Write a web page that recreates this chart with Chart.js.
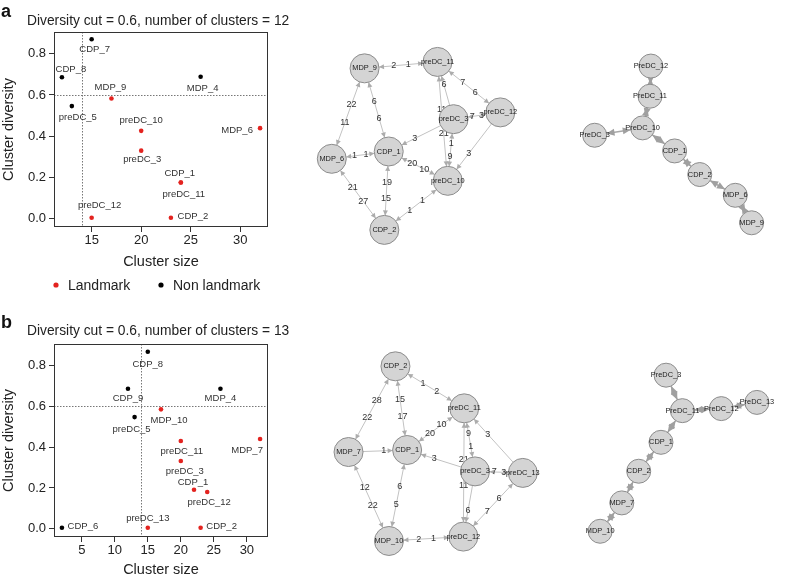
<!DOCTYPE html>
<html>
<head>
<meta charset="utf-8">
<script src="https://cdn.jsdelivr.net/npm/chart.js@4.4.0/dist/chart.umd.min.js"></script>
<style>
html, body { margin: 0; padding: 0; background: #fff; }
body { width: 788px; height: 580px; position: relative; overflow: hidden; }
canvas { position: absolute; }
</style>
</head>
<body>
<canvas id="scatterA" style="left:0;top:0" width="290" height="300"></canvas>
<canvas id="netA1" style="left:295px;top:20px" width="250" height="260"></canvas>
<canvas id="netA2" style="left:555px;top:30px" width="233" height="230"></canvas>
<canvas id="scatterB" style="left:0;top:290px" width="290" height="290"></canvas>
<canvas id="netB1" style="left:295px;top:320px" width="255" height="260"></canvas>
<canvas id="netB2" style="left:550px;top:340px" width="238" height="230"></canvas>
<script>
// ---- data: panel a scatter
const namesA = ['CDP_7', 'CDP_8', 'MDP_4', 'preDC_5', 'MDP_9', 'preDC_10', 'preDC_3', 'MDP_6', 'CDP_1', 'preDC_11', 'preDC_12', 'CDP_2']
const sizeA = [15, 12, 26, 13, 17, 20, 20, 32, 24, 24, 15, 23]
const diversityA = [0.87, 0.686, 0.688, 0.546, 0.583, 0.426, 0.33, 0.439, 0.176, 0.176, 0.005, 0.005]
const landmarkA = [0, 0, 0, 0, 1, 1, 1, 1, 1, 1, 1, 1]

// ---- data: panel b scatter
const namesB = ['CDP_8', 'CDP_9', 'MDP_4', 'preDC_5', 'MDP_10', 'preDC_11', 'MDP_7', 'preDC_3', 'CDP_1', 'preDC_12', 'preDC_13', 'CDP_2', 'CDP_6']
const sizeB = [15, 12, 26, 13, 17, 20, 32, 20, 22, 24, 15, 23, 2]
const diversityB = [0.867, 0.686, 0.686, 0.547, 0.585, 0.43, 0.44, 0.332, 0.191, 0.18, 0.005, 0.005, 0.005]
const landmarkB = [0, 0, 0, 0, 1, 1, 1, 1, 1, 1, 1, 1, 0]

const diversityCut = 0.6
const sizeCut = 14
const yTicks = [0, 0.2, 0.4, 0.6, 0.8]
const xTicksA = [15, 20, 25, 30]
const xTicksB = [5, 10, 15, 20, 25, 30]

// label placement next to points (px)
const labelOffA = [[3, 10], [9, -8], [2, 12], [6, 11], [-1, -11], [0, -10], [1, 9], [-23, 2], [-1, -9], [3, 12], [8, -12], [22, -1]]
const labelOffB = [[0, 13], [0, 10], [0, 10], [-3, 12], [8, 11], [1, 10], [-13, 11], [4, 10], [-1, -7], [2, 10], [0, -9], [21, -1], [21, -1]]

// ---- network layouts (layout units) and edges [from, to, weight near from, weight near to]
const netA1Nodes = ['MDP_9', 'preDC_11', 'preDC_3', 'preDC_12', 'MDP_6', 'CDP_1', 'preDC_10', 'CDP_2']
const netA1X = [61.7, 145, 163.3, 216.7, 24.3, 89.3, 156.7, 84.3]
const netA1Y = [37.3, 30, 95, 87.3, 140, 131.7, 165, 220.7]
const netA1Edges = [
  ['MDP_9', 'preDC_11', 2, 1], ['MDP_9', 'MDP_6', 22, 11], ['MDP_9', 'CDP_1', 6, 6],
  ['preDC_11', 'preDC_3', 6, null], ['preDC_11', 'preDC_10', 11, 21], ['preDC_11', 'preDC_12', 7, 6],
  ['preDC_3', 'preDC_12', 7, 3], ['preDC_3', 'CDP_1', null, 3], ['preDC_3', 'preDC_10', 1, 9],
  ['preDC_12', 'preDC_10', null, 3], ['MDP_6', 'CDP_1', 1, 1], ['CDP_1', 'preDC_10', 20, 10],
  ['CDP_1', 'CDP_2', 19, 15], ['MDP_6', 'CDP_2', 21, 27], ['CDP_2', 'preDC_10', 1, 1]
]

const netA2Nodes = ['PreDC_12', 'PreDC_11', 'PreDC_10', 'PreDC_3', 'CDP_1', 'CDP_2', 'MDP_6', 'MDP_9']
const netA2X = [93.3, 92.3, 84, 30, 120, 148.3, 188.3, 206.7]
const netA2Y = [26, 60, 95.7, 104, 121.7, 148.3, 171.7, 202.7]
const netA2Edges = [
  ['PreDC_12', 'PreDC_11'], ['PreDC_11', 'PreDC_10'], ['PreDC_10', 'PreDC_3'], ['PreDC_10', 'CDP_1'],
  ['CDP_1', 'CDP_2'], ['CDP_2', 'MDP_6'], ['MDP_6', 'MDP_9']
]

const netB1Nodes = ['CDP_2', 'preDC_11', 'MDP_7', 'CDP_1', 'preDC_3', 'preDC_13', 'MDP_10', 'preDC_12']
const netB1X = [96.7, 175, 43.3, 110, 187.3, 241.7, 89.3, 174]
const netB1Y = [35, 82.7, 132.3, 130, 154.3, 156, 233.3, 228.3]
const netB1Edges = [
  ['CDP_2', 'preDC_11', 1, 2], ['CDP_2', 'MDP_7', 28, 22], ['CDP_2', 'CDP_1', 15, 17],
  ['preDC_11', 'CDP_1', 10, 20], ['MDP_7', 'CDP_1', null, 1], ['preDC_11', 'preDC_3', 9, 1],
  ['preDC_13', 'preDC_11', null, 3], ['preDC_3', 'CDP_1', null, 3], ['preDC_11', 'preDC_12', 21, 11],
  ['preDC_3', 'preDC_13', 7, 3], ['preDC_3', 'preDC_12', null, 6], ['preDC_13', 'preDC_12', 6, 7],
  ['MDP_7', 'MDP_10', 12, 22], ['CDP_1', 'MDP_10', 6, 5], ['MDP_10', 'preDC_12', 2, 1]
]

const netB2Nodes = ['PreDC_3', 'PreDC_11', 'PreDC_12', 'PreDC_13', 'CDP_1', 'CDP_2', 'MDP_7', 'MDP_10']
const netB2X = [115.7, 134, 177.7, 217.7, 110, 85, 66, 41.7]
const netB2Y = [25, 65, 62.7, 55.7, 100.7, 133.3, 169, 201]
const netB2Edges = [
  ['PreDC_3', 'PreDC_11'], ['PreDC_11', 'PreDC_12'], ['PreDC_12', 'PreDC_13'], ['PreDC_11', 'CDP_1'],
  ['CDP_1', 'CDP_2'], ['CDP_2', 'MDP_7'], ['MDP_7', 'MDP_10']
]

const FONT = '"Liberation Sans", Arial, Helvetica, sans-serif'
const RED = '#e3231f'
Chart.defaults.font.family = FONT
Chart.defaults.color = '#222'

// draws frame, cut lines, point labels, title, panel letter and legend
const scatterDeco = {
  id: 'scatterDeco',
  beforeDatasetsDraw(chart, args, o) {
    const {ctx, chartArea: a, scales: {x, y}} = chart
    ctx.save()
    ctx.strokeStyle = '#777'
    ctx.lineWidth = 1
    ctx.setLineDash([1.5, 1.5])
    const cx = Math.round(x.getPixelForValue(sizeCut)) + 0.5
    const cy = Math.round(y.getPixelForValue(diversityCut)) + 0.5
    ctx.beginPath()
    ctx.moveTo(cx, a.top); ctx.lineTo(cx, a.bottom)
    ctx.moveTo(a.left, cy); ctx.lineTo(a.right, cy)
    ctx.stroke()
    ctx.setLineDash([])
    ctx.strokeStyle = '#333'
    ctx.strokeRect(Math.round(a.left) + 0.5, Math.round(a.top) + 0.5,
      Math.round(a.right - a.left) - 1, Math.round(a.bottom - a.top) - 1)
    ctx.restore()
  },
  afterDatasetsDraw(chart, args, o) {
    const {ctx, scales: {x, y}} = chart
    ctx.save()
    ctx.font = '9.5px ' + FONT
    ctx.fillStyle = '#333'
    ctx.textAlign = 'center'
    ctx.textBaseline = 'middle'
    o.names.forEach((n, i) => {
      const px = x.getPixelForValue(o.sizes[i]) + o.offsets[i][0]
      const py = y.getPixelForValue(o.divs[i]) + o.offsets[i][1]
      ctx.fillText(n, px, py)
    })
    ctx.textAlign = 'left'
    ctx.textBaseline = 'alphabetic'
    ctx.fillStyle = '#111'
    ctx.font = 'bold 18px ' + FONT
    ctx.fillText(o.letter, 1, o.letterY)
    ctx.fillStyle = '#222'
    ctx.font = '13.8px ' + FONT
    ctx.fillText(o.title, 27, o.titleY)
    if (o.legend) {
      ctx.font = '14px ' + FONT
      const items = [['Landmark', RED, 56], ['Non landmark', '#000', 161]]
      items.forEach(([t, c, lx]) => {
        ctx.fillStyle = c
        ctx.beginPath()
        ctx.arc(lx, 285, 2.6, 0, Math.PI * 2)
        ctx.fill()
        ctx.fillStyle = '#222'
        ctx.fillText(t, lx + 12, 290)
      })
    }
    ctx.restore()
  }
}

function makeScatter(id, names, sizes, divs, landmark, xTicks, xMin, xMax, offsets, deco, pad, xAxisH) {
  const pts = (flag) => sizes.map((s, i) => ({x: s, y: divs[i], f: landmark[i]}))
    .filter(p => p.f === flag).map(p => ({x: p.x, y: p.y}))
  new Chart(document.getElementById(id), {
    type: 'scatter',
    data: {
      datasets: [
        {label: 'Non landmark', data: pts(0), backgroundColor: '#000', pointRadius: 2.3, borderWidth: 0},
        {label: 'Landmark', data: pts(1), backgroundColor: RED, pointRadius: 2.3, borderWidth: 0}
      ]
    },
    options: {
      responsive: false,
      animation: false,
      events: [],
      layout: {padding: pad},
      plugins: {
        legend: {display: false},
        tooltip: {enabled: false},
        scatterDeco: Object.assign({names, sizes, divs, offsets}, deco)
      },
      scales: {
        x: {
          type: 'linear', min: xMin, max: xMax,
          afterBuildTicks: s => { s.ticks = xTicks.map(v => ({value: v})) },
          afterFit: s => { s.height = xAxisH },
          ticks: {font: {size: 13}, color: '#222', padding: 1, maxRotation: 0, callback: v => String(v)},
          grid: {drawOnChartArea: false, drawTicks: true, tickLength: 5, color: '#333'},
          border: {display: false},
          title: {display: true, text: 'Cluster size', font: {size: 14.5}, color: '#222', padding: 0}
        },
        y: {
          type: 'linear', min: -0.04, max: 0.905,
          afterBuildTicks: s => { s.ticks = yTicks.map(v => ({value: v})) },
          afterFit: s => { s.width = 54 },
          ticks: {font: {size: 13}, color: '#222', padding: 3, callback: v => v.toFixed(1)},
          grid: {drawOnChartArea: false, drawTicks: true, tickLength: 5, color: '#333'},
          border: {display: false},
          title: {display: true, text: 'Cluster diversity', font: {size: 14.5}, color: '#222', padding: 0}
        }
      }
    },
    plugins: [scatterDeco]
  })
}

makeScatter('scatterA', namesA, sizeA, diversityA, landmarkA, xTicksA, 11.2, 32.8, labelOffA,
  {letter: 'a', letterY: 17, title: 'Diversity cut = 0.6, number of clusters = 12', titleY: 24.5, legend: true},
  {top: 32, right: 22, bottom: 29, left: 0}, 44)
makeScatter('scatterB', namesB, sizeB, diversityB, landmarkB, xTicksB, 0.8, 33.2, labelOffB,
  {letter: 'b', letterY: 38, title: 'Diversity cut = 0.6, number of clusters = 13', titleY: 44.5, legend: false},
  {top: 54, right: 22, bottom: 1, left: 0}, 42)

// ---- networks
const netDeco = {
  id: 'netDeco',
  beforeDatasetsDraw(chart, args, o) {
    const {ctx, scales: {x, y}} = chart
    const P = (n) => {
      const i = o.nodes.indexOf(n)
      return [x.getPixelForValue(o.xs[i]), y.getPixelForValue(o.ys[i])]
    }
    const arrow = (tx, ty, ux, uy) => {
      ctx.beginPath()
      ctx.moveTo(tx, ty)
      ctx.lineTo(tx - ux * o.aLen - uy * o.aW, ty - uy * o.aLen + ux * o.aW)
      ctx.lineTo(tx - ux * o.aLen + uy * o.aW, ty - uy * o.aLen - ux * o.aW)
      ctx.closePath()
      ctx.fill()
    }
    ctx.save()
    o.edges.forEach(([a, b, la, lb]) => {
      const [x1, y1] = P(a), [x2, y2] = P(b)
      const len = Math.hypot(x2 - x1, y2 - y1)
      const ux = (x2 - x1) / len, uy = (y2 - y1) / len
      const sx = x1 + ux * o.r, sy = y1 + uy * o.r
      const ex = x2 - ux * o.r, ey = y2 - uy * o.r
      ctx.strokeStyle = o.edgeColor
      ctx.lineWidth = o.edgeW
      ctx.beginPath()
      ctx.moveTo(sx, sy); ctx.lineTo(ex, ey)
      ctx.stroke()
      ctx.fillStyle = o.arrowColor
      if (o.both || la != null) arrow(sx, sy, -ux, -uy)
      if (o.both || lb != null) arrow(ex, ey, ux, uy)
      ctx.font = '9px ' + FONT
      ctx.fillStyle = '#333'
      ctx.textAlign = 'center'
      ctx.textBaseline = 'middle'
      if (la != null) ctx.fillText(String(la), x1 + (x2 - x1) * 0.4, y1 + (y2 - y1) * 0.4)
      if (lb != null) ctx.fillText(String(lb), x1 + (x2 - x1) * 0.6, y1 + (y2 - y1) * 0.6)
    })
    ctx.restore()
  },
  afterDatasetsDraw(chart, args, o) {
    const {ctx, scales: {x, y}} = chart
    ctx.save()
    ctx.font = o.nodeFont + 'px ' + FONT
    ctx.fillStyle = o.nodeText
    ctx.textAlign = 'center'
    ctx.textBaseline = 'middle'
    o.nodes.forEach((n, i) => {
      ctx.fillText(n, x.getPixelForValue(o.xs[i]), y.getPixelForValue(o.ys[i]))
    })
    ctx.restore()
  }
}

function makeNet(id, nodes, xs, ys, edges, st) {
  const cv = document.getElementById(id)
  new Chart(cv, {
    type: 'scatter',
    data: {
      datasets: [{
        data: xs.map((v, i) => ({x: v, y: ys[i]})),
        pointRadius: st.r, backgroundColor: '#d4d4d4', borderColor: '#8c8c8c', borderWidth: 1, clip: false
      }]
    },
    options: {
      responsive: false,
      animation: false,
      events: [],
      layout: {padding: 0},
      plugins: {
        legend: {display: false},
        tooltip: {enabled: false},
        netDeco: Object.assign({nodes, xs, ys, edges}, st)
      },
      scales: {
        x: {type: 'linear', display: false, min: 0, max: cv.width},
        y: {type: 'linear', display: false, min: 0, max: cv.height, reverse: true}
      }
    },
    plugins: [netDeco]
  })
}

const bigNet = {r: 14.5, edgeColor: '#c2c2c2', edgeW: 1, arrowColor: '#acacac', aLen: 5, aW: 2.5, both: false, nodeFont: 7.4, nodeText: '#1a1a1a'}
const smallNet = {r: 12, edgeColor: '#a8a8a8', edgeW: 1.5, arrowColor: '#a0a0a0', aLen: 8, aW: 3.5, both: true, nodeFont: 7.4, nodeText: '#1a1a1a'}

makeNet('netA1', netA1Nodes, netA1X, netA1Y, netA1Edges, bigNet)
makeNet('netA2', netA2Nodes, netA2X, netA2Y, netA2Edges, smallNet)
makeNet('netB1', netB1Nodes, netB1X, netB1Y, netB1Edges, bigNet)
makeNet('netB2', netB2Nodes, netB2X, netB2Y, netB2Edges, smallNet)
</script>
</body>
</html>
